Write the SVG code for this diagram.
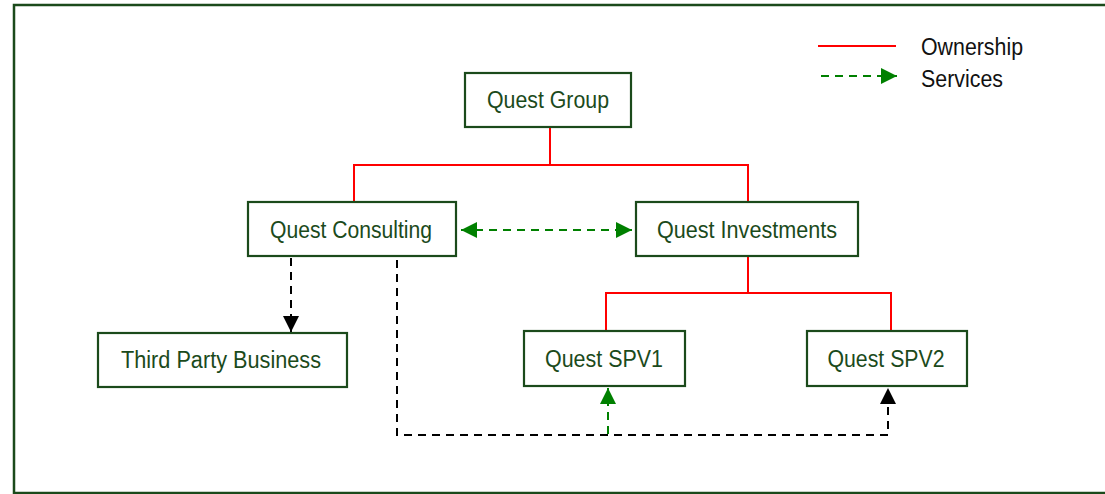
<svg xmlns="http://www.w3.org/2000/svg" width="1105" height="494" viewBox="0 0 1105 494">
<defs>
<style>
.box{fill:#fff;stroke:#1b4a1b;stroke-width:2.2}
.lbl{font-family:"Liberation Sans",Arial,sans-serif;font-size:23px;fill:#1b4a1b;text-anchor:middle}
.leg{font-family:"Liberation Sans",Arial,sans-serif;font-size:23px;fill:#111}
.own{fill:none;stroke:#ff0000;stroke-width:2}
.svc{fill:none;stroke:#008000;stroke-width:2;stroke-dasharray:8,6}
.blk{fill:none;stroke:#000;stroke-width:2;stroke-dasharray:8,6}
</style>
<marker id="agl" viewBox="0 0 16 16" refX="16" refY="8" markerWidth="16" markerHeight="16" orient="auto-start-reverse" markerUnits="userSpaceOnUse">
<path d="M0,0 L16,8 L0,16 z" fill="#008000"/>
</marker>
<marker id="ab" viewBox="0 0 16 16" refX="16" refY="8" markerWidth="16" markerHeight="16" orient="auto" markerUnits="userSpaceOnUse">
<path d="M0,0 L16,8 L0,16 z" fill="#000"/>
</marker>
</defs>
<rect x="0" y="0" width="1105" height="494" fill="#fff"/>
<rect id="frame" x="14" y="5" width="1100" height="488" fill="none" stroke="#1b4a1b" stroke-width="2.5"/>

<g id="connectors">
<polyline class="own" points="550,127 550,165"/>
<polyline class="own" points="354,202 354,165 748,165 748,202"/>
<polyline class="own" points="748,256 748,293"/>
<polyline class="own" points="606,331 606,293 891,293 891,331"/>
<line class="svc" x1="461" y1="230" x2="632" y2="230" marker-start="url(#agl)" marker-end="url(#agl)"/>
<line class="blk" x1="291" y1="258" x2="291" y2="332" marker-end="url(#ab)"/>
<polyline class="blk" points="397,260 397,435 888,435 888,388" marker-end="url(#ab)"/>
<line class="svc" x1="608" y1="434" x2="608" y2="388" marker-end="url(#agl)"/>
</g>

<g id="legend">
<line x1="818" y1="46" x2="896" y2="46" stroke="#ff0000" stroke-width="2"/>
<line class="svc" x1="821" y1="76" x2="897" y2="76" marker-end="url(#agl)"/>
<text class="leg" x="921" y="55" textLength="102" lengthAdjust="spacingAndGlyphs">Ownership</text>
<text class="leg" x="921" y="87" textLength="82" lengthAdjust="spacingAndGlyphs">Services</text>
</g>

<g id="quest-group">
<rect class="box" x="465" y="73" width="166" height="54"/>
<text class="lbl" x="548" y="108" textLength="122" lengthAdjust="spacingAndGlyphs">Quest Group</text>
</g>
<g id="quest-consulting">
<rect class="box" x="248" y="202" width="208" height="54"/>
<text class="lbl" x="351" y="238" textLength="162" lengthAdjust="spacingAndGlyphs">Quest Consulting</text>
</g>
<g id="quest-investments">
<rect class="box" x="636" y="202" width="222" height="54"/>
<text class="lbl" x="747" y="238" textLength="180" lengthAdjust="spacingAndGlyphs">Quest Investments</text>
</g>
<g id="third-party-business">
<rect class="box" x="98" y="333" width="249" height="54"/>
<text class="lbl" x="221" y="368" textLength="200" lengthAdjust="spacingAndGlyphs">Third Party Business</text>
</g>
<g id="quest-spv1">
<rect class="box" x="524" y="331" width="161" height="55"/>
<text class="lbl" x="604" y="367" textLength="118" lengthAdjust="spacingAndGlyphs">Quest SPV1</text>
</g>
<g id="quest-spv2">
<rect class="box" x="807" y="331" width="160" height="55"/>
<text class="lbl" x="886" y="367" textLength="117" lengthAdjust="spacingAndGlyphs">Quest SPV2</text>
</g>
</svg>
